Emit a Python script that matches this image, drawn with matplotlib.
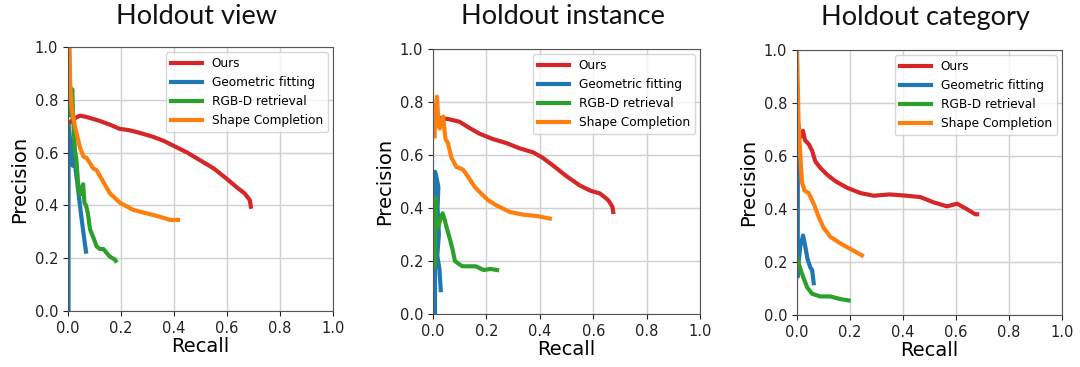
import matplotlib
matplotlib.use("Agg")
import matplotlib.pyplot as plt

plt.rcParams["font.family"] = ["DejaVu Sans"]

# ---------------- data ----------------
titles = ["Holdout view", "Holdout instance", "Holdout category"]
series_names = ["Ours", "Geometric fitting", "RGB-D retrieval", "Shape Completion"]
series_colors = ["#d62728", "#1f77b4", "#2ca02c", "#ff7f0e"]
ticks = [0.0, 0.2, 0.4, 0.6, 0.8, 1.0]

# Holdout view
view_ours_x = [0.004, 0.012, 0.025, 0.045, 0.07, 0.12, 0.16, 0.195, 0.23, 0.27, 0.32, 0.36, 0.40, 0.45, 0.50, 0.55, 0.60, 0.635, 0.667, 0.686, 0.69]
view_ours_y = [0.71, 0.72, 0.73, 0.74, 0.735, 0.72, 0.705, 0.69, 0.685, 0.675, 0.66, 0.645, 0.625, 0.60, 0.57, 0.54, 0.50, 0.47, 0.445, 0.42, 0.395]
view_geo_x = [0.002, 0.002, 0.006, 0.013, 0.018, 0.022, 0.026, 0.038, 0.05, 0.063, 0.068]
view_geo_y = [0.0, 0.70, 0.67, 0.58, 0.55, 0.65, 0.56, 0.46, 0.36, 0.26, 0.225]
view_rgb_x = [0.002, 0.008, 0.016, 0.02, 0.026, 0.032, 0.039, 0.045, 0.05, 0.057, 0.062, 0.068, 0.075, 0.083, 0.095, 0.108, 0.12, 0.133, 0.158, 0.177, 0.18]
view_rgb_y = [0.77, 0.74, 0.84, 0.72, 0.61, 0.57, 0.47, 0.44, 0.46, 0.48, 0.41, 0.40, 0.37, 0.31, 0.28, 0.245, 0.235, 0.235, 0.206, 0.195, 0.19]
view_shape_x = [0.006, 0.008, 0.014, 0.026, 0.045, 0.058, 0.07, 0.083, 0.095, 0.108, 0.127, 0.158, 0.196, 0.246, 0.297, 0.347, 0.385, 0.415]
view_shape_y = [1.0, 0.87, 0.77, 0.70, 0.62, 0.585, 0.58, 0.56, 0.54, 0.534, 0.50, 0.446, 0.41, 0.383, 0.37, 0.357, 0.345, 0.345]

# Holdout instance
inst_ours_x = [0.0125, 0.03, 0.06, 0.10, 0.14, 0.175, 0.225, 0.275, 0.325, 0.375, 0.41, 0.45, 0.50, 0.55, 0.59, 0.625, 0.656, 0.672, 0.675]
inst_ours_y = [0.73, 0.74, 0.735, 0.725, 0.70, 0.68, 0.66, 0.645, 0.625, 0.61, 0.59, 0.56, 0.52, 0.485, 0.465, 0.455, 0.43, 0.405, 0.385]
inst_geo_x = [0.0075, 0.0075, 0.012, 0.02, 0.017, 0.022, 0.016, 0.024, 0.029]
inst_geo_y = [0.0, 0.537, 0.52, 0.48, 0.40, 0.30, 0.22, 0.17, 0.09]
inst_rgb_x = [0.0075, 0.0085, 0.012, 0.02, 0.028, 0.036, 0.044, 0.05, 0.064, 0.074, 0.082, 0.095, 0.11, 0.135, 0.16, 0.19, 0.215, 0.24]
inst_rgb_y = [0.18, 0.44, 0.33, 0.33, 0.36, 0.38, 0.355, 0.33, 0.28, 0.24, 0.20, 0.19, 0.18, 0.18, 0.18, 0.166, 0.17, 0.166]
inst_shape_x = [0.006, 0.01, 0.015, 0.02, 0.025, 0.0375, 0.047, 0.056, 0.069, 0.0875, 0.1125, 0.13, 0.156, 0.18, 0.206, 0.2375, 0.2875, 0.3375, 0.3875, 0.4375]
inst_shape_y = [0.67, 0.78, 0.82, 0.72, 0.70, 0.745, 0.66, 0.645, 0.59, 0.555, 0.545, 0.52, 0.48, 0.455, 0.43, 0.41, 0.385, 0.375, 0.37, 0.36]

# Holdout category
cat_ours_x = [0.0025, 0.0125, 0.0226, 0.03, 0.044, 0.057, 0.069, 0.088, 0.113, 0.145, 0.189, 0.24, 0.29, 0.35, 0.415, 0.465, 0.516, 0.566, 0.604, 0.64, 0.673, 0.68]
cat_ours_y = [0.735, 0.67, 0.695, 0.66, 0.645, 0.62, 0.58, 0.555, 0.53, 0.505, 0.48, 0.46, 0.45, 0.455, 0.45, 0.445, 0.425, 0.41, 0.42, 0.40, 0.38, 0.38]
cat_geo_x = [0.003, 0.003, 0.006, 0.0125, 0.023, 0.031, 0.04, 0.05, 0.057, 0.063]
cat_geo_y = [0.65, 0.145, 0.20, 0.26, 0.30, 0.26, 0.21, 0.18, 0.17, 0.12]
cat_rgb_x = [0.0, 0.006, 0.019, 0.038, 0.057, 0.088, 0.126, 0.164, 0.195]
cat_rgb_y = [0.22, 0.195, 0.155, 0.105, 0.08, 0.07, 0.07, 0.06, 0.055]
cat_shape_x = [0.0, 0.0025, 0.006, 0.0125, 0.019, 0.028, 0.044, 0.063, 0.082, 0.10, 0.126, 0.164, 0.2, 0.245]
cat_shape_y = [1.0, 0.89, 0.72, 0.60, 0.50, 0.47, 0.46, 0.42, 0.37, 0.33, 0.295, 0.27, 0.25, 0.225]

panels = [
    [(view_ours_x, view_ours_y), (view_geo_x, view_geo_y), (view_rgb_x, view_rgb_y), (view_shape_x, view_shape_y)],
    [(inst_ours_x, inst_ours_y), (inst_geo_x, inst_geo_y), (inst_rgb_x, inst_rgb_y), (inst_shape_x, inst_shape_y)],
    [(cat_ours_x, cat_ours_y), (cat_geo_x, cat_geo_y), (cat_rgb_x, cat_rgb_y), (cat_shape_x, cat_shape_y)],
]

# ---------------- layout ----------------
W, H = 1080, 367
fig = plt.figure(figsize=(W / 100, H / 100), dpi=100)
boxes = [(68, 47, 333, 311), (433, 49, 700, 314), (797, 50, 1062, 315)]

for (l, t, r, b), title, curves in zip(boxes, titles, panels):
    ax = fig.add_axes([l / W, (H - b) / H, (r - l) / W, (b - t) / H])
    for (xs, ys), name, col in zip(curves, series_names, series_colors):
        ax.plot(xs, ys, color=col, lw=3, label=name, solid_joinstyle="round")
    ax.set_xlim(0, 1)
    ax.set_ylim(0, 1)
    ax.set_xticks(ticks)
    ax.set_yticks(ticks)
    ax.set_xticklabels([f"{v:.1f}" for v in ticks], family="DejaVu Sans")
    ax.set_yticklabels([f"{v:.1f}" for v in ticks], family="DejaVu Sans")
    ax.tick_params(labelsize=10.5, colors="#222222")
    for s in ax.spines.values():
        s.set_color("#555555")
    ax.grid(True, color="#d0d0d0", lw=1)
    ax.set_axisbelow(True)
    ax.set_xlabel("Recall", fontsize=14, labelpad=1, family="DejaVu Sans")
    ax.set_ylabel("Precision", fontsize=14, family="DejaVu Sans")
    ax.legend(loc="upper right", fontsize=8.7, handlelength=2.6, borderaxespad=0.45)
    fig.text((l + r) / 2 / W - 4 / W, 1 - 17 / H, title, ha="center", va="center",
             fontsize=19.5, family="Lato", color="#111111")

fig.savefig("out.png", dpi=100)
